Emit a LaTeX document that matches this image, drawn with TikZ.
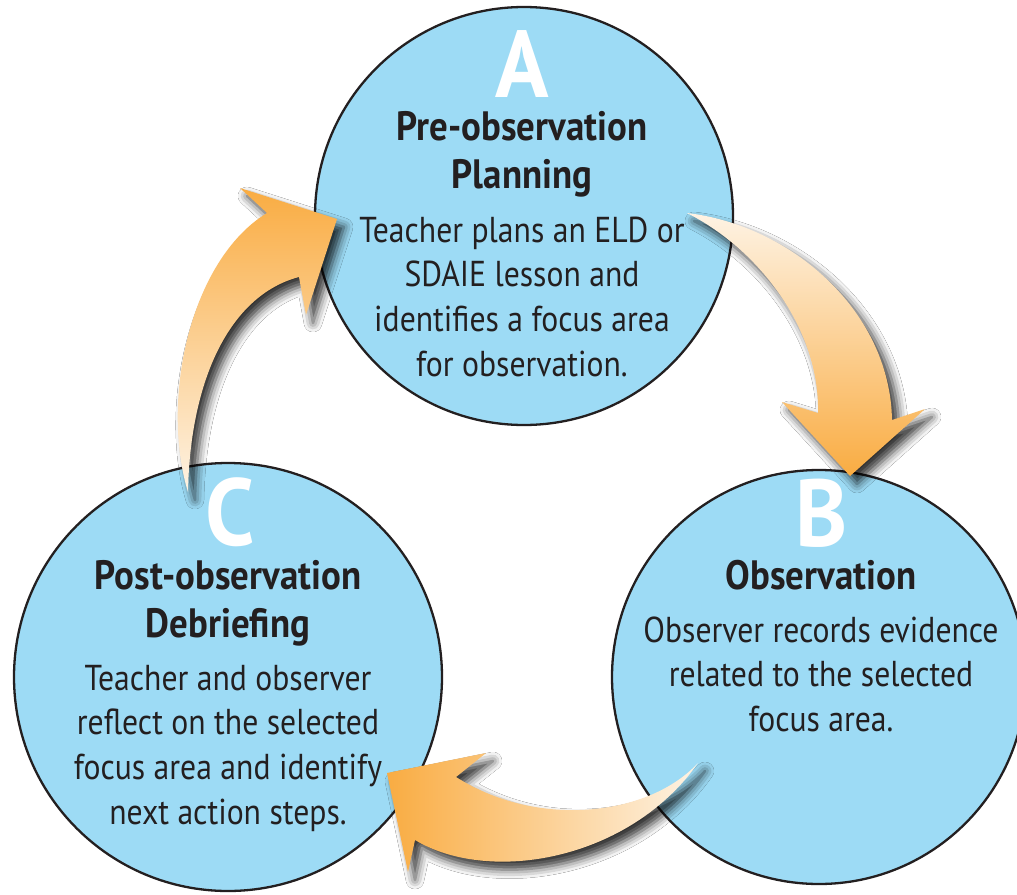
\documentclass[tikz,border=0pt]{standalone}
\usepackage{fontspec}
\setmainfont{PT Sans}
\newfontfamily\bodyfont[FakeStretch=0.88]{PT Sans}
\newfontfamily\titlefont[FakeStretch=0.9]{PT Sans Bold}
\newfontfamily\letterfont[FakeStretch=0.93]{PT Sans Bold}
\usetikzlibrary{shadows.blur}
\definecolor{circblue}{RGB}{157,219,245}
\definecolor{inkdark}{RGB}{35,31,32}
\definecolor{arrorange}{RGB}{249,172,66}
\definecolor{arrlight}{RGB}{254,243,228}
\tikzset{
  stage/.style={circle, draw=inkdark, line width=2.3pt, fill=circblue, inner sep=0pt},
  letter/.style={anchor=base, text=white, inner sep=0pt, text depth=0pt, font=\letterfont\fontsize{95}{95}\selectfont},
  title/.style={anchor=base, text=inkdark, inner sep=0pt, text height=29pt, font=\titlefont\fontsize{41}{45}\selectfont},
  body/.style={anchor=base, text=inkdark, inner sep=0pt, font=\bodyfont\fontsize{36}{42}\selectfont},
  cyclearrow/.style={blur shadow={shadow xshift=7pt, shadow yshift=-8pt, shadow blur radius=9pt, shadow opacity=80}}
}
\begin{document}
\begin{tikzpicture}[x=1pt, y=-1pt]
\clip (0,0) rectangle (1017,894);
\useasboundingbox (0,0) rectangle (1017,894);
\fill[white] (0,0) rectangle (1017,894);
% circles
\node[stage, minimum size=418pt] (A) at (524,216) {};
\node[stage, minimum size=414pt] (B) at (819,677) {};
\node[stage, minimum size=428pt] (C) at (228,677) {};
% A text
\node[letter] (Aletter) at (522,97) {A};
\node[title] (Atitle1) at (522,140) {Pre-observation};
\node[title] (Atitle2) at (522,188) {Planning};
\foreach \t [count=\i] in {Teacher plans an ELD or, SDAIE lesson and, identifies a focus area, for observation.}
  \node[body] (Abody\i) at (522,{242+44.7*(\i-1)}) {\t};
% B text
\node[letter] (Bletter) at (822,546) {B};
\node[title] (Btitle1) at (821,589) {Observation};
\foreach \t [count=\i] in {Observer records evidence, related to the selected, focus area.}
  \node[body] (Bbody\i) at (821,{642+44.5*(\i-1)}) {\t};
% C text
\node[letter] (Cletter) at (230,545) {C};
\node[title] (Ctitle1) at (228,589) {Post-observation};
\node[title] (Ctitle2) at (228,637) {Debriefing};
\foreach \t [count=\i] in {Teacher and observer, reflect on the selected, focus area and identify, next action steps.}
  \node[body] (Cbody\i) at (228,{690+44.7*(\i-1)}) {\t};
% arrows
\coordinate (abtail) at (687,213);
\coordinate (abtip) at (850,476);
\shade[cyclearrow, top color=arrlight, bottom color=arrorange]
  (abtail) .. controls (790,225) and (890,310) .. (892,420) -- (925,409) -- (abtip)
  -- (782,402) -- (818,413) .. controls (820,330) and (760,250) .. (abtail) -- cycle;
\coordinate (bctail) at (698,763);
\coordinate (bctip) at (387,773);
\shade[cyclearrow, left color=arrorange, right color=arrlight]
  (bctail) .. controls (650,815) and (540,830) .. (456,777) -- (486,753) -- (bctip)
  -- (408,872) -- (415,840) .. controls (490,885) and (630,860) .. (bctail) -- cycle;
\coordinate (catail) at (188,492);
\coordinate (catip) at (337,219);
\shade[cyclearrow, top color=arrorange, bottom color=arrlight]
  (catail) .. controls (160,400) and (190,260) .. (267,213) -- (240,188) -- (catip)
  -- (306,315) -- (299,277) .. controls (230,295) and (190,380) .. (catail) -- cycle;
\end{tikzpicture}
\end{document}
